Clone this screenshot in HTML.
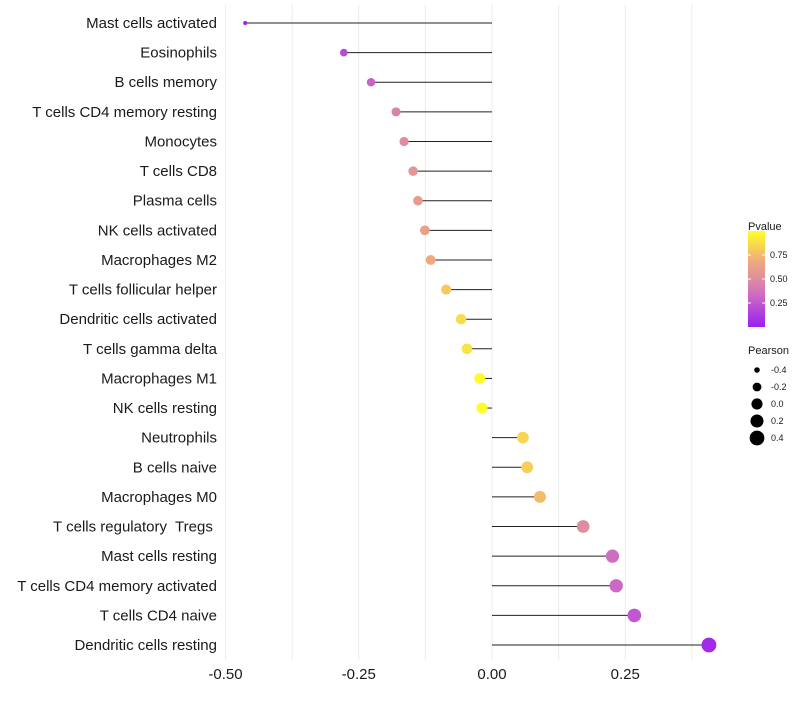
<!DOCTYPE html>
<html><head><meta charset="utf-8"><style>
body{margin:0;background:#fff}
svg text{font-family:"Liberation Sans",sans-serif;white-space:pre}
</style></head><body>
<svg id="c" width="800" height="700"></svg>
<script>
const categories=["Mast cells activated","Eosinophils","B cells memory","T cells CD4 memory resting","Monocytes","T cells CD8","Plasma cells","NK cells activated","Macrophages M2","T cells follicular helper","Dendritic cells activated","T cells gamma delta","Macrophages M1","NK cells resting","Neutrophils","B cells naive","Macrophages M0","T cells regulatory  Tregs ","Mast cells resting","T cells CD4 memory activated","T cells CD4 naive","Dendritic cells resting"];
const pearson=[-0.463,-0.278,-0.227,-0.180,-0.165,-0.148,-0.139,-0.126,-0.115,-0.086,-0.058,-0.047,-0.023,-0.019,0.058,0.066,0.090,0.171,0.226,0.233,0.267,0.407];
const pvalue=[0.0,0.2,0.3,0.45,0.5,0.55,0.6,0.63,0.68,0.8,0.87,0.9,0.98,0.99,0.85,0.82,0.75,0.5,0.35,0.32,0.25,0.05];
const xTicks=[-0.5,-0.25,0,0.25];
const xTickLabels=["-0.50","-0.25","0.00","0.25"];
const pTicks=[0.25,0.5,0.75];
const sizeTicks=[-0.4,-0.2,0,0.2,0.4];
const NS="http://www.w3.org/2000/svg",svg=document.getElementById('c');
function mk(t,a,p){const e=document.createElementNS(NS,t);for(const k in a)e.setAttribute(k,a[k]);(p||svg).appendChild(e);return e;}
const x=v=>492+v*533;
const y=i=>23+i*(622/21);
const r=v=>Math.sqrt(Math.max(1.8,31+58*v));
const stops=[[0,[155,31,240]],[0.33,[204,106,196]],[0.5,[222,142,160]],[0.67,[238,166,130]],[1,[255,255,40]]];
function col(p){for(let i=1;i<stops.length;i++){if(p<=stops[i][0]){const a=stops[i-1],b=stops[i],t=(p-a[0])/(b[0]-a[0]);return 'rgb('+a[1].map((c,j)=>Math.round(c+(b[1][j]-c)*t)).join(',')+')';}}return 'rgb(255,255,40)';}
for(let k=0;k<8;k++){const g=mk('line',{x1:x(-0.5+k*0.125),x2:x(-0.5+k*0.125),y1:5,y2:660,stroke:'#ebebeb','stroke-width':1});

}
categories.forEach((c,i)=>{
const t=mk('text',{x:217,y:y(i)+5,'text-anchor':'end','font-size':15,fill:'#1a1a1a'});t.textContent=c;


const l=mk('line',{x1:x(0),x2:x(pearson[i]),y1:y(i),y2:y(i),stroke:'#222','stroke-width':1});


const d=mk('circle',{cx:x(pearson[i]),cy:y(i),r:r(pearson[i]),fill:col(pvalue[i])});


});
xTicks.forEach((v,i)=>{const t=mk('text',{x:x(v),y:679,'text-anchor':'middle','font-size':15,fill:'#1a1a1a'});t.textContent=xTickLabels[i];

});
const defs=mk('defs',{});const lg=mk('linearGradient',{id:'pg',x1:0,y1:1,x2:0,y2:0},defs);
stops.forEach(s=>mk('stop',{offset:s[0],'stop-color':'rgb('+s[1].join(',')+')'},lg));
const lt=mk('text',{x:748,y:230,'font-size':11,fill:'#1a1a1a'});lt.textContent='Pvalue';


const py=p=>327-p*96;
const bar=mk('rect',{x:748,y:py(1),width:17,height:96,fill:'url(#pg)'});


pTicks.forEach(p=>{mk('line',{x1:748,x2:751,y1:py(p),y2:py(p),stroke:'#fff'});mk('line',{x1:762,x2:765,y1:py(p),y2:py(p),stroke:'#fff'});
const t=mk('text',{x:770,y:py(p)+3,'font-size':9,fill:'#1a1a1a'});t.textContent=p.toFixed(2);

});
const st=mk('text',{x:748,y:354,'font-size':11,fill:'#1a1a1a'});st.textContent='Pearson';


sizeTicks.forEach((v,i)=>{const yy=370+i*17;
const c=mk('circle',{cx:757,cy:yy,r:r(v),fill:'#000'});


const t=mk('text',{x:771,y:yy+3,'font-size':9,fill:'#1a1a1a'});t.textContent=v.toFixed(1);

});
</script>
</body></html>
